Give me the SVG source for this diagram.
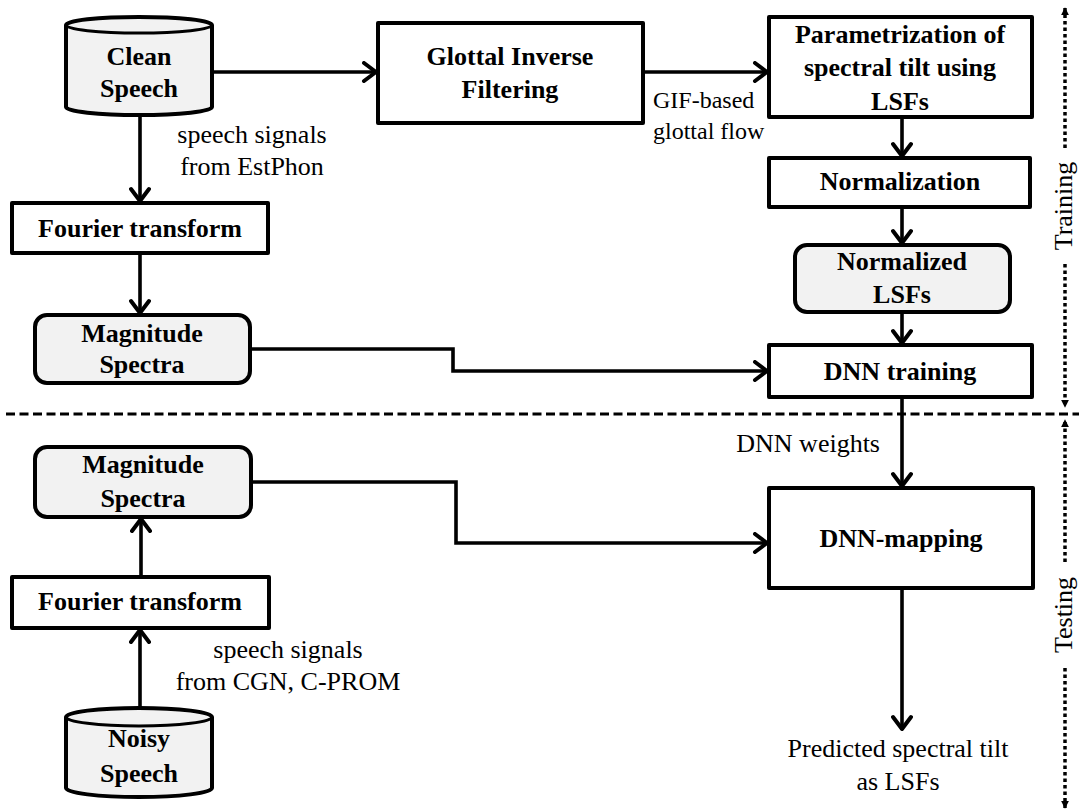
<svg xmlns="http://www.w3.org/2000/svg" width="1079" height="811" viewBox="0 0 1079 811" font-family="'Liberation Serif', serif">
<style>
.box{fill:#ffffff;stroke:#000;stroke-width:4;stroke-linejoin:round}
.gbox{fill:#f2f2f2;stroke:#000;stroke-width:4;stroke-linejoin:round}
.nt{font-family:'Liberation Serif',serif;font-weight:bold;font-size:26px;fill:#000;text-anchor:middle}
.lt{font-family:'Liberation Serif',serif;font-size:26px;fill:#000}
.sm{font-size:24px}
.conn{fill:none;stroke:#000;stroke-width:3.6;stroke-linejoin:miter;marker-end:url(#arr)}
.dot{fill:none;stroke:#000;stroke-width:3.5;stroke-dasharray:3.5 3}
</style>
<defs>
<marker id="arr" viewBox="0 0 18 22" refX="16" refY="11" markerWidth="18" markerHeight="22" markerUnits="userSpaceOnUse" orient="auto">
<path d="M3,2 L15,11 L3,20" fill="none" stroke="#000" stroke-width="4" stroke-linecap="round" stroke-linejoin="round"/>
</marker>
<marker id="tri" viewBox="0 0 10 10" refX="9" refY="5" markerWidth="8" markerHeight="8" markerUnits="userSpaceOnUse" orient="auto">
<path d="M0,0 L10,5 L0,10 Z" fill="#000"/>
</marker>
</defs>

<g id="connectors">
<line class="conn" x1="212" y1="72" x2="377" y2="72"/>
<line class="conn" x1="643" y1="72" x2="768" y2="72"/>
<line class="conn" x1="140" y1="115" x2="140" y2="202"/>
<line class="conn" x1="140" y1="253" x2="140" y2="314"/>
<polyline class="conn" points="250,349 453,349 453,371 768,371"/>
<line class="conn" x1="902" y1="117" x2="902" y2="157"/>
<line class="conn" x1="902" y1="207" x2="902" y2="244"/>
<line class="conn" x1="902" y1="312" x2="902" y2="344"/>
<line class="conn" x1="902" y1="397" x2="902" y2="487"/>
<line class="conn" x1="902" y1="588" x2="902" y2="730"/>
<polyline class="conn" points="251,482 456,482 456,543 768,543"/>
<line class="conn" x1="141" y1="577" x2="141" y2="518"/>
<line class="conn" x1="140" y1="708" x2="140" y2="629"/>
</g>

<g id="phase-divider">
<line x1="6" y1="414" x2="1079" y2="414" stroke="#000" stroke-width="3" stroke-dasharray="9 4.5"/>
</g>

<g id="training-range">
<line class="dot" x1="1065" y1="148" x2="1065" y2="8" marker-end="url(#tri)"/>
<line class="dot" x1="1065" y1="264" x2="1065" y2="407" marker-end="url(#tri)"/>
<text class="lt" transform="translate(1072,206) rotate(-90)" text-anchor="middle">Training</text>
</g>

<g id="testing-range">
<line class="dot" x1="1065" y1="562" x2="1065" y2="420" marker-end="url(#tri)"/>
<line class="dot" x1="1065" y1="668" x2="1065" y2="808" marker-end="url(#tri)"/>
<text class="lt" transform="translate(1072,615) rotate(-90)" text-anchor="middle">Testing</text>
</g>

<g id="clean-speech">
<path class="gbox" d="M66,25 L66,107 A73,8 0 0 0 212,107 L212,25 A73,8 0 0 0 66,25 Z"/>
<path d="M66,25 A73,8 0 0 0 212,25" fill="none" stroke="#000" stroke-width="3"/>
<text class="nt" x="139" y="65">Clean</text>
<text class="nt" x="139" y="97">Speech</text>
</g>

<g id="glottal-inverse-filtering">
<rect class="box" x="378" y="23" width="265" height="100"/>
<text class="nt" x="510" y="65">Glottal Inverse</text>
<text class="nt" x="510" y="98">Filtering</text>
</g>

<g id="parametrization">
<rect class="box" x="769" y="17" width="263" height="100"/>
<text class="nt" x="900" y="43">Parametrization of</text>
<text class="nt" x="900" y="76">spectral tilt using</text>
<text class="nt" x="900" y="110">LSFs</text>
</g>

<g id="normalization">
<rect class="box" x="769" y="158" width="261" height="49"/>
<text class="nt" x="900" y="190">Normalization</text>
</g>

<g id="normalized-lsfs">
<rect class="gbox" x="795" y="245" width="215" height="67" rx="12" ry="12"/>
<text class="nt" x="902" y="270">Normalized</text>
<text class="nt" x="902" y="303">LSFs</text>
</g>

<g id="dnn-training">
<rect class="box" x="769" y="345" width="263" height="52"/>
<text class="nt" x="900" y="380">DNN training</text>
</g>

<g id="fourier-train">
<rect class="box" x="12" y="203" width="256" height="50"/>
<text class="nt" x="140" y="237">Fourier transform</text>
</g>

<g id="magnitude-train">
<rect class="gbox" x="35" y="315" width="215" height="68" rx="12" ry="12"/>
<text class="nt" x="142" y="342">Magnitude</text>
<text class="nt" x="142" y="373">Spectra</text>
</g>

<g id="magnitude-test">
<rect class="gbox" x="35" y="447" width="216" height="70" rx="12" ry="12"/>
<text class="nt" x="143" y="473">Magnitude</text>
<text class="nt" x="143" y="507">Spectra</text>
</g>

<g id="fourier-test">
<rect class="box" x="12" y="577" width="257" height="51"/>
<text class="nt" x="140" y="610">Fourier transform</text>
</g>

<g id="noisy-speech">
<path class="gbox" d="M66,717 L66,788 A73,9 0 0 0 212,788 L212,717 A73,9 0 0 0 66,717 Z"/>
<path d="M66,717 A73,9 0 0 0 212,717" fill="none" stroke="#000" stroke-width="3"/>
<text class="nt" x="139" y="747">Noisy</text>
<text class="nt" x="139" y="782">Speech</text>
</g>

<g id="dnn-mapping">
<rect class="box" x="769" y="488" width="264" height="100"/>
<text class="nt" x="901" y="547">DNN-mapping</text>
</g>

<g id="labels">
<text class="lt" x="252" y="143" text-anchor="middle">speech signals</text>
<text class="lt" x="252" y="175" text-anchor="middle">from EstPhon</text>
<text class="lt sm" x="653" y="108">GIF-based</text>
<text class="lt sm" x="653" y="139">glottal flow</text>
<text class="lt" x="880" y="452" text-anchor="end">DNN weights</text>
<text class="lt" x="288" y="658" text-anchor="middle">speech signals</text>
<text class="lt" x="288" y="690" text-anchor="middle">from CGN, C-PROM</text>
<text class="lt" x="898" y="757" text-anchor="middle">Predicted spectral tilt</text>
<text class="lt" x="898" y="790" text-anchor="middle">as LSFs</text>
</g>
</svg>
